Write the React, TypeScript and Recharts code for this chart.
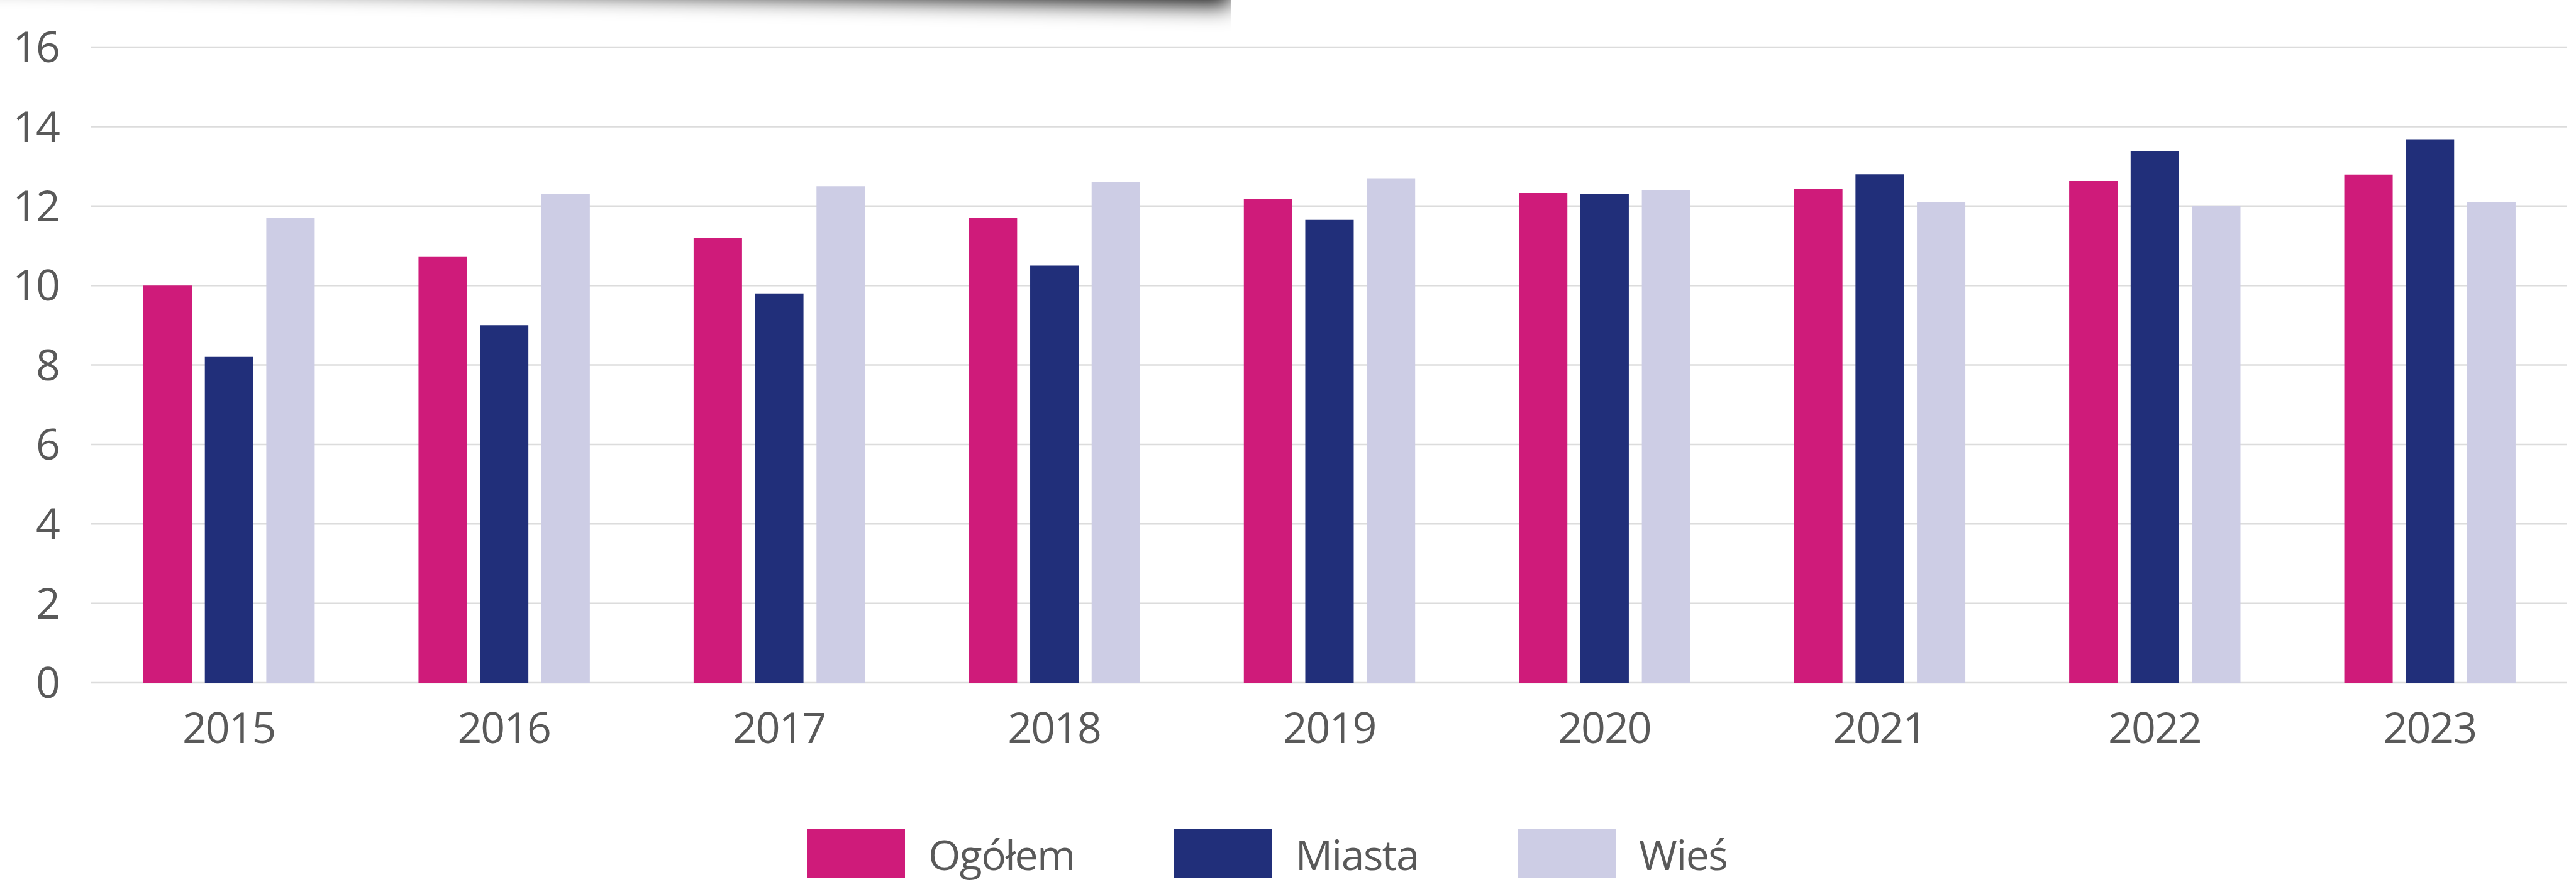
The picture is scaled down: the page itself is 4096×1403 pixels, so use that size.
import React from 'react'
import { BarChart, Bar, XAxis, YAxis, CartesianGrid, Legend } from 'recharts'

const years = ['2015', '2016', '2017', '2018', '2019', '2020', '2021', '2022', '2023']
const ogolem = [10.0, 10.72, 11.2, 11.7, 12.18, 12.33, 12.44, 12.63, 12.79]
const miasta = [8.2, 9.0, 9.8, 10.5, 11.65, 12.3, 12.8, 13.39, 13.68]
const wies = [11.7, 12.3, 12.5, 12.6, 12.7, 12.39, 12.1, 12.0, 12.09]
const yTicks = [0, 2, 4, 6, 8, 10, 12, 14, 16]

const series = [
  { key: 'ogolem', name: 'Ogółem', color: '#CF1B7A' },
  { key: 'miasta', name: 'Miasta', color: '#212F7A' },
  { key: 'wies', name: 'Wieś', color: '#CDCDE5' },
]

const data = years.map((year, i) => ({
  year,
  ogolem: ogolem[i],
  miasta: miasta[i],
  wies: wies[i],
}))

const FONT = '"Open Sans", "Noto Sans", sans-serif'
const TEXT = '#595959'

function LegendBox() {
  return (
    <div style={{ display: 'flex', alignItems: 'center', fontFamily: FONT, color: TEXT, fontSize: 66 }}>
      {series.map((s, i) => (
        <div key={s.key} style={{ display: 'flex', alignItems: 'center', marginRight: i < series.length - 1 ? 158 : 0 }}>
          <div style={{ width: 156, height: 78, background: s.color, marginRight: 37 }} />
          <span style={{ letterSpacing: -1.5, lineHeight: 1 }}>{s.name}</span>
        </div>
      ))}
    </div>
  )
}

export default function App() {
  return (
    <div style={{ position: 'absolute', left: 0, top: 0, width: 4096, height: 1403, background: '#fff', overflow: 'hidden' }}>
      {/* shadow of the card above, cut off by the top edge */}
      <div style={{ position: 'absolute', left: 0, top: 0, width: 1958, height: 100, overflow: 'hidden' }}>
        <div
          style={{
            position: 'absolute',
            left: -400,
            top: -210,
            width: 2358,
            height: 200,
            background: '#fff',
            transformOrigin: 'right bottom',
            transform: 'rotate(1.1deg)',
            boxShadow: '0 18px 36px rgba(0,0,0,1)',
          }}
        />
      </div>
      <BarChart
        width={4096}
        height={1403}
        data={data}
        margin={{ top: 75, right: 14, bottom: 0, left: 0 }}
        barGap={20.7}
      >
        <CartesianGrid vertical={false} stroke="#DCDCDC" strokeWidth={2.5} />
        <XAxis
          dataKey="year"
          axisLine={false}
          tickLine={false}
          tickSize={0}
          tickMargin={48}
          height={317}
          tick={{ fill: TEXT, fontSize: 68, fontFamily: FONT, letterSpacing: -2 }}
        />
        <YAxis
          domain={[0, 16]}
          ticks={yTicks}
          axisLine={false}
          tickLine={false}
          tickSize={0}
          tickMargin={51}
          width={145}
          tick={{ fill: TEXT, fontSize: 68, fontFamily: FONT, letterSpacing: -2 }}
        />
        <Legend
          layout="horizontal"
          verticalAlign="middle"
          align="center"
          content={<LegendBox />}
          wrapperStyle={{ top: 1319, left: 1283, width: 'auto', height: 'auto' }}
        />
        {series.map((s) => (
          <Bar key={s.key} dataKey={s.key} name={s.name} fill={s.color} barSize={77} isAnimationActive={false} />
        ))}
      </BarChart>
    </div>
  )
}
